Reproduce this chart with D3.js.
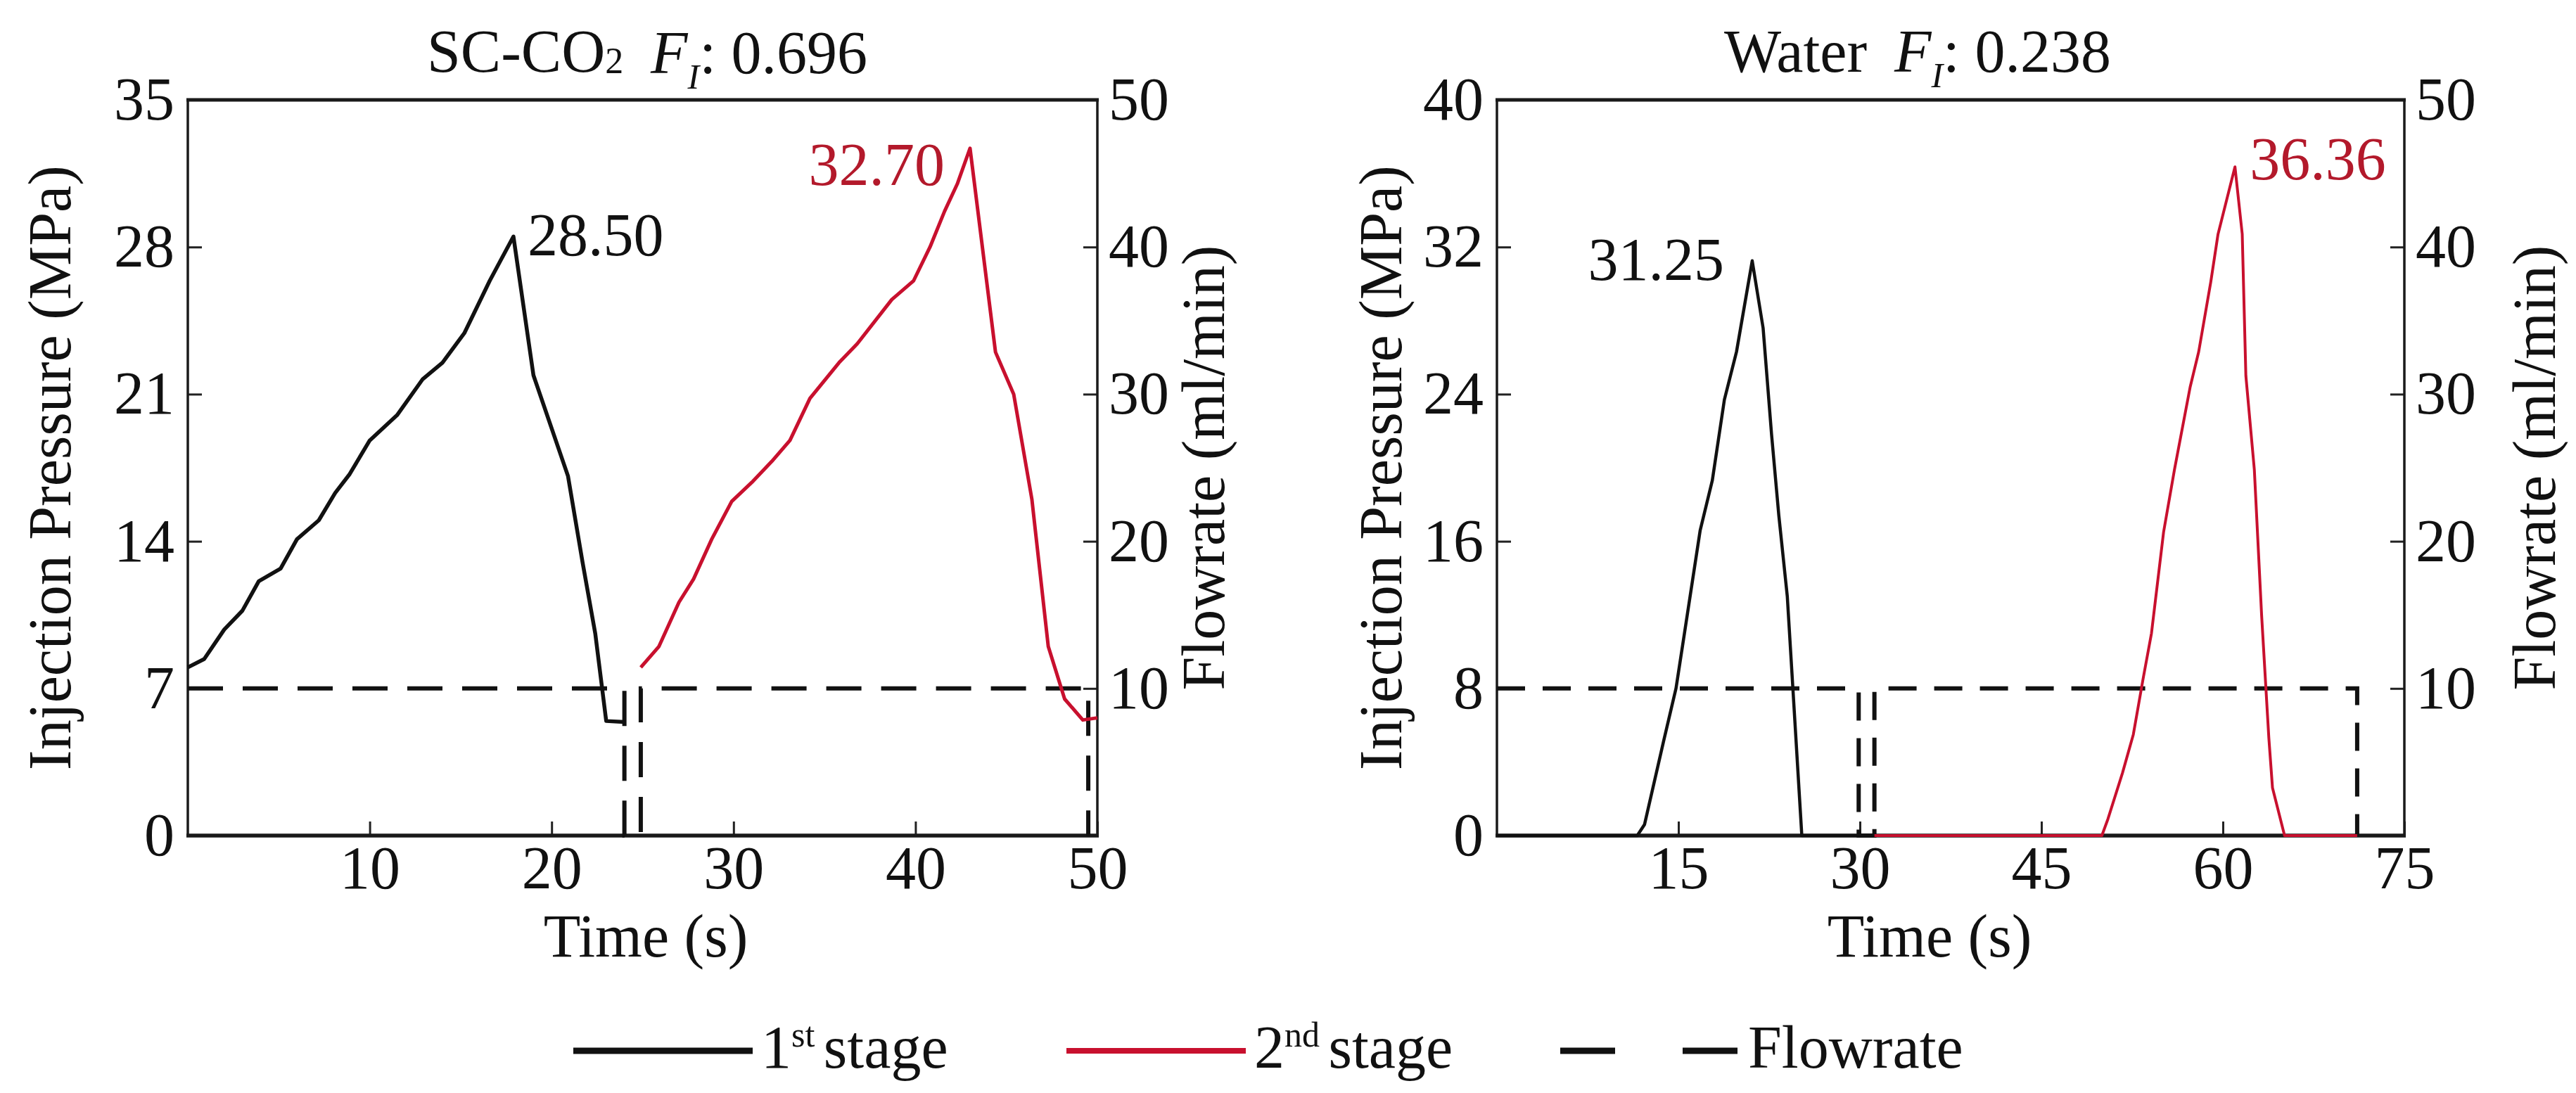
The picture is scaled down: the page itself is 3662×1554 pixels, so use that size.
<!DOCTYPE html>
<html>
<head>
<meta charset="utf-8">
<script src="https://cdn.jsdelivr.net/npm/d3@7"></script>
<style>
body{margin:0;background:#fff}
svg{display:block}
text{font-family:"Liberation Serif","Times New Roman",serif;fill:#111}
</style>
</head>
<body>
<svg id="chart" width="3662" height="1554"></svg>
<script>
//----------------------------------------------------------- DATA
// time (s), injection pressure (MPa)
var co2Stage1 = [[0,8.0],[0.9,8.4],[2.0,9.8],[3.0,10.7],[3.9,12.1],[5.1,12.7],[6.0,14.1],[7.2,15.0],
	[8.1,16.3],[8.9,17.2],[10.0,18.8],[11.5,20.0],[12.9,21.7],[14.0,22.5],[15.2,23.9],[16.6,26.4],
	[17.9,28.5],[19.0,21.9],[20.9,17.1],[21.7,13.0],[22.4,9.6],[23.0,5.45],[24.0,5.4]];
var co2Stage2 = [[24.9,8.0],[25.9,9.0],[27.0,11.1],[27.8,12.2],[28.8,14.1],[29.9,15.9],[31.0,16.8],
	[32.1,17.8],[33.1,18.8],[34.2,20.8],[35.8,22.5],[36.8,23.4],[38.7,25.5],[39.9,26.4],[40.8,28.0],
	[41.6,29.7],[42.3,31.0],[43.0,32.7],[44.4,23.0],[45.4,21.0],[46.4,16.0],[47.3,9.0],[48.2,6.5],
	[49.2,5.5],[50,5.6]];
// time (s), flowrate (ml/min)
var co2Flow = [[0,10],[24.0,10],[24.0,0],[24.9,0],[24.9,10],[49.5,10],[49.5,0]];

var waterStage1 = [[0,0],[11.6,0],[12.2,0.6],[13.8,5.2],[14.8,8.0],[15.5,11.0],[16.8,16.6],[17.8,19.3],
	[18.8,23.7],[19.8,26.3],[21.1,31.25],[22.0,27.6],[22.7,21.8],[23.3,17.4],[24.0,13.0],[25.2,0],[30.0,0]];
var waterStage2 = [[31.2,0],[50.0,0],[50.5,0.9],[51.7,3.4],[52.6,5.5],[53.4,8.5],[54.1,11.0],[55.1,16.5],
	[56.0,19.9],[57.3,24.4],[58.0,26.3],[59.0,30.1],[59.6,32.7],[61.0,36.36],[61.6,32.7],[61.9,25.0],
	[62.6,19.9],[63.2,12.0],[63.8,5.3],[64.1,2.6],[65.1,0],[71.1,0]];
var waterFlow = [[0,10],[29.9,10],[29.9,0],[31.2,0],[31.2,10],[71.1,10],[71.1,0]];

var co2TimeTicks = [10,20,30,40,50];
var co2PressureTicks = [0,7,14,21,28,35];
var waterTimeTicks = [15,30,45,60,75];
var waterPressureTicks = [0,8,16,24,32,40];
var flowTicks = [10,20,30,40,50];

var peakLabels = ["28.50","32.70","31.25","36.36"];
// [main, superscript, rest]
var legendLabels = [["1","st","stage"],["2","nd","stage"],["Flowrate"]];

//----------------------------------------------------------- LAYOUT
var TOP = 142, BOTTOM = 1188, FS = 86;
var BLACK = "#111", RED = "#c8102e", RED_TEXT = "#b3192b";
var svg = d3.select("#chart");

function drawPanel(cfg) {
	var g = svg.append("g");
	var x = d3.scaleLinear().domain([0,cfg.xMax]).range([cfg.left,cfg.right]);
	var yP = d3.scaleLinear().domain([0,cfg.pMax]).range([BOTTOM,TOP]);
	var yF = d3.scaleLinear().domain([0,50]).range([BOTTOM,TOP]);

	function styleAxis(a) {
		a.select(".domain").remove();
		a.attr("font-size",FS).attr("font-family",null);
		a.selectAll(".tick line").attr("stroke","#222").attr("stroke-width",3);
	}
	g.append("g").attr("transform","translate(0,"+BOTTOM+")")
		.call(d3.axisBottom(x).tickValues(cfg.xTicks).tickSizeInner(-20).tickSizeOuter(0).tickPadding(14))
		.call(styleAxis);
	g.append("g").attr("transform","translate("+cfg.left+",0)")
		.call(d3.axisLeft(yP).tickValues(cfg.pTicks).tickSizeInner(-20).tickSizeOuter(0).tickPadding(19))
		.call(styleAxis);
	g.append("g").attr("transform","translate("+cfg.right+",0)")
		.call(d3.axisRight(yF).tickValues(flowTicks).tickSizeInner(-20).tickSizeOuter(0).tickPadding(16))
		.call(styleAxis);

	// frame
	g.append("line").attr("x1",cfg.left-2).attr("x2",cfg.right+2).attr("y1",TOP).attr("y2",TOP)
		.attr("stroke","#1a1a1a").attr("stroke-width",5);
	g.append("line").attr("x1",cfg.left-2).attr("x2",cfg.right+2).attr("y1",BOTTOM).attr("y2",BOTTOM)
		.attr("stroke","#1a1a1a").attr("stroke-width",5.5);
	[cfg.left,cfg.right].forEach(function(v){
		g.append("line").attr("x1",v).attr("x2",v).attr("y1",TOP).attr("y2",BOTTOM)
			.attr("stroke","#1a1a1a").attr("stroke-width",3.5);
	});

	var lineP = d3.line().x(function(d){return x(d[0]);}).y(function(d){return yP(d[1]);});
	var lineF = d3.line().x(function(d){return x(d[0]);}).y(function(d){return yF(d[1]);});

	g.append("path").attr("d",lineF(cfg.flow)).attr("fill","none").attr("stroke",BLACK)
		.attr("stroke-width",6).attr("stroke-dasharray",cfg.dash);
	g.append("path").attr("d",lineP(cfg.s1)).attr("fill","none").attr("stroke",BLACK)
		.attr("stroke-width",cfg.lw).attr("stroke-linejoin","round");
	g.append("path").attr("d",lineP(cfg.s2)).attr("fill","none").attr("stroke",RED)
		.attr("stroke-width",cfg.lw-0.5).attr("stroke-linejoin","round");

	// peak annotations
	var p1 = d3.greatest(cfg.s1,function(d){return d[1];});
	var p2 = d3.greatest(cfg.s2,function(d){return d[1];});
	cfg.peaks.forEach(function(pk,i){
		var p = i===0 ? p1 : p2;
		g.append("text").attr("x",x(p[0])+pk.dx).attr("y",yP(p[1])+pk.dy)
			.attr("text-anchor",pk.anchor).attr("font-size",FS)
			.style("fill",i===0 ? BLACK : RED_TEXT).text(pk.text);
	});

	// title
	var t = g.append("text").attr("x",cfg.titleX).attr("y",102).attr("text-anchor","middle").attr("font-size",FS);
	cfg.title(t);
	t.append("tspan").text("\u00a0\u2009");
	t.append("tspan").attr("font-style","italic").text("F");
	t.append("tspan").attr("font-style","italic").attr("font-size",50).attr("dy",22).text("I");
	t.append("tspan").attr("dy",-22).text(": "+cfg.fi);

	// axis titles
	g.append("text").attr("x",cfg.timeX).attr("y",1360).attr("text-anchor","middle")
		.attr("font-size",FS).text("Time (s)");
	g.append("text").attr("transform","translate("+cfg.pLabelX+","+((TOP+BOTTOM)/2)+") rotate(-90)")
		.attr("text-anchor","middle").attr("font-size",FS).text("Injection Pressure (MPa)");
	g.append("text").attr("transform","translate("+cfg.fLabelX+","+((TOP+BOTTOM)/2)+") rotate(-90)")
		.attr("text-anchor","middle").attr("font-size",FS).text("Flowrate (ml/min)");
}

drawPanel({
	left:267, right:1560, xMax:50, pMax:35,
	xTicks:co2TimeTicks, pTicks:co2PressureTicks,
	s1:co2Stage1, s2:co2Stage2, flow:co2Flow, lw:5.5, dash:"50,28",
	peaks:[{text:peakLabels[0],dx:20,dy:27,anchor:"start"},{text:peakLabels[1],dx:-36,dy:52,anchor:"end"}],
	titleX:920, fi:"0.696",
	title:function(t){t.append("tspan").text("SC-CO");t.append("tspan").attr("font-size",52).attr("dy",2).text("2");t.append("tspan").attr("dy",-2).text("");},
	timeX:918, pLabelX:100, fLabelX:1740
});
drawPanel({
	left:2128, right:3418, xMax:75, pMax:40,
	xTicks:waterTimeTicks, pTicks:waterPressureTicks,
	s1:waterStage1, s2:waterStage2, flow:waterFlow, lw:4.5, dash:"40,25",
	peaks:[{text:peakLabels[2],dx:-40,dy:27,anchor:"end"},{text:peakLabels[3],dx:21,dy:18,anchor:"start"}],
	titleX:2726, fi:"0.238",
	title:function(t){t.append("tspan").text("Water");},
	timeX:2743, pLabelX:1992, fLabelX:3632
});

//----------------------------------------------------------- LEGEND
var leg = svg.append("g");
var legY = 1494;
var legItems = [
	{x1:815, x2:1070, color:BLACK, w:9, dash:null, label:legendLabels[0]},
	{x1:1516, x2:1771, color:RED, w:8, dash:null, label:legendLabels[1]},
	{x1:2218, x2:2473, color:BLACK, w:9, dash:"78,96", label:legendLabels[2]}
];
legItems.forEach(function(it){
	leg.append("line").attr("x1",it.x1).attr("x2",it.x2).attr("y1",legY).attr("y2",legY)
		.attr("stroke",it.color).attr("stroke-width",it.w).attr("stroke-dasharray",it.dash);
	var t = leg.append("text").attr("x",it.x2+12).attr("y",legY+24).attr("font-size",FS);
	t.append("tspan").text(it.label[0]);
	if (it.label.length > 1) {
		t.append("tspan").attr("font-size",50).attr("dy",-30).text(it.label[1]+" ");
		t.append("tspan").attr("dy",30).text(it.label[2]);
	}
});
</script>
</body>
</html>
